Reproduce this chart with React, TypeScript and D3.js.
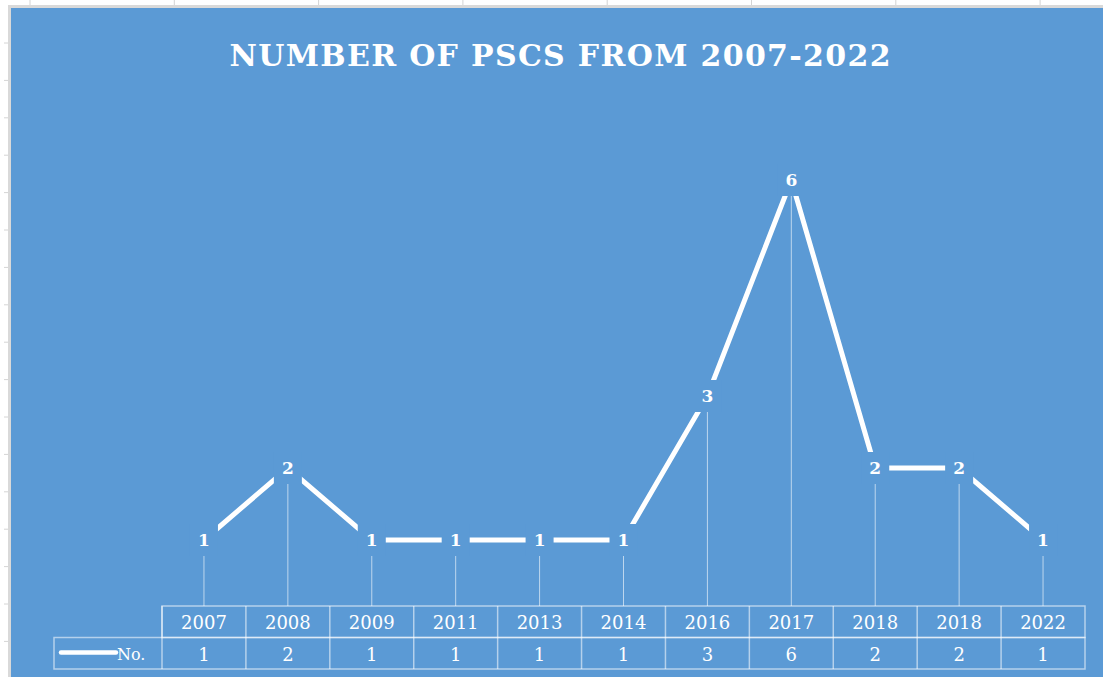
import { useMemo } from "react";
import * as d3 from "d3";

const years = ["2007", "2008", "2009", "2011", "2013", "2014", "2016", "2017", "2018", "2018", "2022"];
const counts = [1, 2, 1, 1, 1, 1, 3, 6, 2, 2, 1];
const seriesName = "No.";
const title = "NUMBER OF PSCS FROM 2007-2022";

const W = 1103;
const H = 677;
const BLUE = "#5b9ad5";

export default function App() {
  const margin = { left: 162, right: 18, top: 180, tableTop: 606 };
  const rowH = 31.5;

  const x = useMemo(
    () =>
      d3
        .scaleBand<number>()
        .domain(d3.range(years.length))
        .range([margin.left, W - margin.right]),
    []
  );
  const y = useMemo(() => d3.scaleLinear().domain([0, 6]).range([612, 180]), []);

  const cx = (i: number) => (x(i) ?? 0) + x.bandwidth() / 2;
  const line = d3
    .line<number>()
    .x((_, i) => cx(i))
    .y((d) => y(d));

  // spreadsheet gridlines around the chart object
  const colLines = d3.range(8).map((k) => 30 + k * 144.3);
  const rowTicks = d3.range(17).map((k) => 43 + k * 37.4);

  const lineColor = "rgba(255,255,255,0.55)";
  const tableLeft = 54;
  const tableRight = W - margin.right;
  const r1 = margin.tableTop;
  const r2 = r1 + rowH;
  const r3 = r2 + rowH;

  return (
    <svg
      width={W}
      height={H}
      style={{ position: "absolute", left: 0, top: 0 }}
      fontFamily="'DejaVu Serif', serif"
    >
      <rect width={W} height={H} fill="#fff" />
      {colLines.map((c, i) => (
        <line key={i} x1={c} x2={c} y1={0} y2={6} stroke="#d4d4d4" />
      ))}
      {rowTicks.map((t, i) => (
        <line key={i} x1={4} x2={10} y1={t} y2={t} stroke="#d4d4d4" />
      ))}
      <rect x={8} y={5} width={W - 8} height={3} fill="#d9d9d9" />
      <rect x={8} y={5} width={3} height={H - 5} fill="#d9d9d9" />
      <rect x={11} y={8} width={W - 11} height={H - 8} fill={BLUE} />

      <text
        x={560}
        y={66}
        textAnchor="middle"
        fill="#fff"
        fontWeight="bold"
        fontSize={30}
        textLength={661}
        lengthAdjust="spacing"
      >
        {title}
      </text>

      {/* drop lines */}
      {counts.map((v, i) => (
        <line
          key={i}
          x1={cx(i)}
          x2={cx(i)}
          y1={y(v) + 16}
          y2={r1}
          stroke="rgba(255,255,255,0.6)"
          strokeWidth={1}
        />
      ))}

      <path d={line(counts) ?? ""} fill="none" stroke="#fff" strokeWidth={5} />

      {counts.map((v, i) => (
        <g key={i}>
          <rect x={cx(i) - 14} y={y(v) - 16} width={28} height={32} fill={BLUE} />
          <text
            x={cx(i)}
            y={y(v) + 6}
            textAnchor="middle"
            fill="#fff"
            fontWeight="bold"
            fontSize={17}
          >
            {v}
          </text>
        </g>
      ))}

      {/* data table */}
      <g stroke={lineColor} strokeWidth={1.5} fill="none">
        <rect x={margin.left} y={r1} width={tableRight - margin.left} height={rowH} />
        <rect x={tableLeft} y={r2} width={tableRight - tableLeft} height={rowH} />
        {years.map((_, i) => (
          <line key={i} x1={x(i)} x2={x(i)} y1={r1} y2={r3} />
        ))}
      </g>
      {years.map((yr, i) => (
        <text key={i} x={cx(i)} y={r1 + 23} textAnchor="middle" fill="#fff" fontSize={18}>
          {yr}
        </text>
      ))}
      {counts.map((v, i) => (
        <text key={i} x={cx(i)} y={r2 + 23} textAnchor="middle" fill="#fff" fontSize={18}>
          {v}
        </text>
      ))}
      <line x1={61} x2={116} y1={r2 + 15} y2={r2 + 15} stroke="#fff" strokeWidth={4.5} strokeLinecap="round" />
      <text x={117} y={r2 + 22} fill="#fff" fontSize={16}>
        {seriesName}
      </text>
    </svg>
  );
}
